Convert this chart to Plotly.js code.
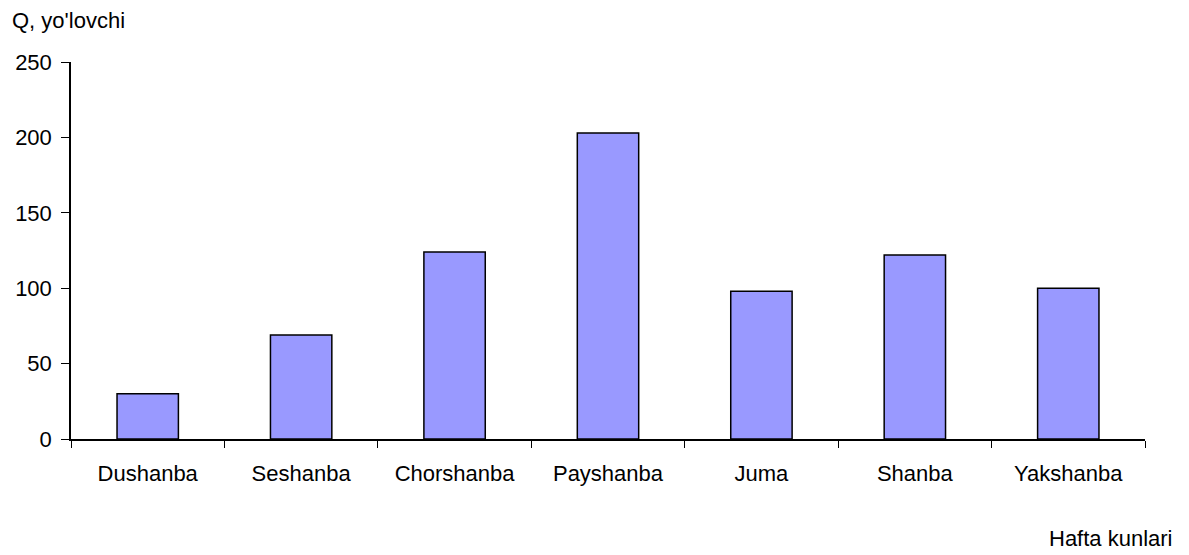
<!DOCTYPE html>
<html><head><meta charset="utf-8">
<script src="https://cdn.plot.ly/plotly-3.0.1.min.js"></script>
<style>html,body{margin:0;padding:0;background:#fff}</style>
</head><body>
<div id="chart" style="width:1189px;height:555px"></div>
<script>
const days = ["Dushanba","Seshanba","Chorshanba","Payshanba","Juma","Shanba","Yakshanba"];
const passengers = [30, 69, 124, 203, 98, 122, 100];
const yTicks = [0, 50, 100, 150, 200, 250];
const yTitle = "Q, yo'lovchi";
const xTitle = "Hafta kunlari";

const font = {family: "Liberation Sans, Arial, sans-serif", size: 22, color: "#000"};
Plotly.newPlot("chart", [{
  type: "bar", x: days, y: passengers,
  width: 0.4,
  marker: {color: "#9999FF", line: {color: "#000", width: 1.5}},
  hoverinfo: "x+y"
}], {
  width: 1189, height: 555,
  margin: {l: 71, r: 44, t: 62, b: 116},
  paper_bgcolor: "#fff", plot_bgcolor: "#fff",
  font: font,
  showlegend: false,
  xaxis: {
    type: "category", tickson: "boundaries", ticks: "outside", ticklen: 7, tickwidth: 1.3, tickcolor: "#000",
    showline: true, linecolor: "#000", linewidth: 1.5, showgrid: false, zeroline: false,
    tickfont: font, ticklabelstandoff: 14, fixedrange: true
  },
  yaxis: {
    range: [0, 250], tickvals: yTicks, ticks: "outside", ticklen: 8, tickwidth: 1.3, tickcolor: "#000",
    showline: true, linecolor: "#000", linewidth: 1.5, showgrid: false, zeroline: false,
    tickfont: font, ticklabelstandoff: 5, fixedrange: true
  },
  annotations: [
    {text: yTitle, xref: "paper", yref: "paper", x: -71/1074, y: 1, xshift: 10, yshift: 42, xanchor: "left", yanchor: "middle", showarrow: false, font: font},
    {text: xTitle, xref: "paper", yref: "paper", x: 1, y: 0, xshift: 30, yshift: -99, xanchor: "right", yanchor: "middle", showarrow: false, font: font}
  ]
}, {displayModeBar: false, staticPlot: false});
</script>
</body></html>
